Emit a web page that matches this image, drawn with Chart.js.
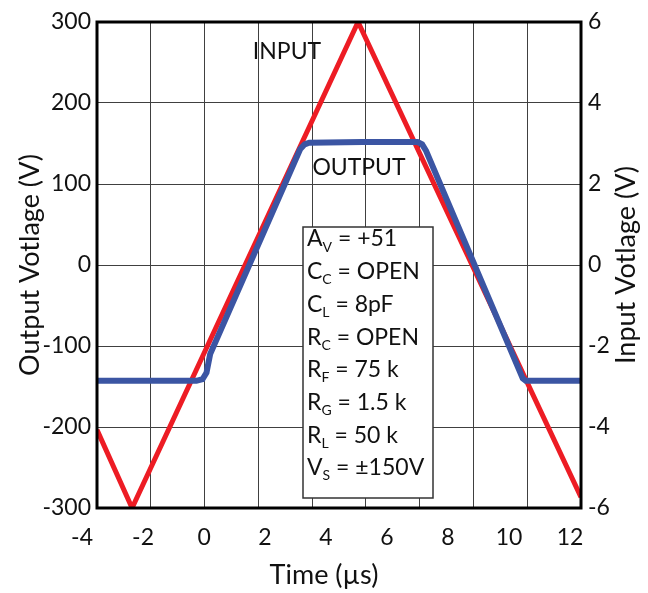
<!DOCTYPE html>
<html>
<head>
<meta charset="utf-8">
<script src="https://cdn.jsdelivr.net/npm/chart.js@4.4.1/dist/chart.umd.min.js"></script>
<style>
  html, body { margin: 0; padding: 0; background: #fff; }
  #wrap { width: 648px; height: 593px; position: relative; }
</style>
</head>
<body>
<div id="wrap"><canvas id="myChart"></canvas></div>
<script>
// input triangle wave (right axis, V)
const inputTime = [-3.51, -2.36, 5.05, 12.36];
const inputVolts = [-4.07, -6, 6, -5.73];

// output (left axis, V)
const outputTime = [-3.51, -0.25, -0.05, 0.08, 0.2, 3.15, 3.3, 3.45, 5.2, 7.0, 7.15, 7.28, 10.45, 10.55, 12.36];
const outputVolts = [-143, -143, -141, -133, -110, 143, 149, 151, 152, 152, 149, 141, -140, -143, -143];

const timeTicks = [-4, -2, 0, 2, 4, 6, 8, 10, 12];
const params = [
  ["A", "V", " = +51"],
  ["C", "C", " = OPEN"],
  ["C", "L", " = 8pF"],
  ["R", "C", " = OPEN"],
  ["R", "F", " = 75 k"],
  ["R", "G", " = 1.5 k"],
  ["R", "L", " = 50 k"],
  ["V", "S", " = \u00B1150V"],
];

const FONT = "Lato";

const toPoints = (xs, ys) => xs.map((x, i) => ({ x: x, y: ys[i] }));

const extras = {
  id: "extras",
  afterDraw(chart) {
    const ctx = chart.ctx;
    const a = chart.chartArea;
    ctx.save();

    // frame
    ctx.strokeStyle = "#000";
    ctx.lineWidth = 3;
    ctx.strokeRect(a.left, a.top, a.right - a.left, a.bottom - a.top);

    ctx.fillStyle = "#111";
    ctx.textBaseline = "middle";
    ctx.textAlign = "center";
    ctx.font = "23px " + FONT;
    ctx.fillText("INPUT", 287, 52);
    ctx.fillText("OUTPUT", 359, 168);

    // parameter box
    ctx.fillStyle = "#fff";
    ctx.fillRect(303, 227, 130, 271);
    ctx.strokeStyle = "#333";
    ctx.lineWidth = 1.5;
    ctx.strokeRect(303, 227, 130, 271);
    ctx.fillStyle = "#111";
    ctx.textAlign = "left";
    params.forEach((p, i) => {
      let x = 307;
      const y = 239 + i * 32.7;
      ctx.font = "23px " + FONT;
      ctx.fillText(p[0], x, y);
      x += ctx.measureText(p[0]).width;
      ctx.font = "14px " + FONT;
      ctx.fillText(p[1], x, y + 8);
      x += ctx.measureText(p[1]).width;
      ctx.font = "23px " + FONT;
      ctx.fillText(p[2], x, y);
    });

    // axis titles
    ctx.textAlign = "center";
    ctx.font = "27px " + FONT;
    ctx.fillText("Time (\u00B5s)", 324, 575);

    ctx.save();
    ctx.translate(30, 265);
    ctx.rotate(-Math.PI / 2);
    ctx.fillText("Output Votlage (V)", 0, 0);
    ctx.restore();

    ctx.save();
    ctx.translate(626, 265);
    ctx.rotate(-Math.PI / 2);
    ctx.fillText("Input Votlage (V)", 0, 0);
    ctx.restore();

    ctx.restore();
  },
};

const ctx = document.getElementById("myChart").getContext("2d");

const chart = new Chart(ctx, {
  type: "line",
  data: {
    datasets: [
      // output first so it is drawn over the input trace
      {
        label: "OUTPUT",
        data: toPoints(outputTime, outputVolts),
        yAxisID: "y",
        borderColor: "#3B55A3",
        borderWidth: 6,
        pointRadius: 0,
        tension: 0,
      },
      {
        label: "INPUT",
        data: toPoints(inputTime, inputVolts),
        yAxisID: "y2",
        borderColor: "#ED1C24",
        borderWidth: 5,
        pointRadius: 0,
        tension: 0,
      },
    ],
  },
  options: {
    responsive: true,
    maintainAspectRatio: false,
    animation: false,
    layout: { padding: { top: 22, left: 0, right: 0, bottom: 0 } },
    plugins: {
      legend: { display: false },
      tooltip: { enabled: false },
    },
    scales: {
      x: {
        type: "linear",
        position: "bottom",
        min: -3.51,
        max: 12.36,
        grid: { display: false },
        border: { display: false },
        afterBuildTicks: (scale) => {
          scale.ticks = timeTicks.map((v) => ({ value: v }));
        },
        afterFit: (scale) => { scale.height = 85; },
        ticks: {
          autoSkip: false,
          maxRotation: 0,
          padding: 8,
          color: "#111",
          font: { family: FONT, size: 23 },
        },
      },
      xg: {
        type: "linear",
        position: "top",
        min: 0,
        max: 9,
        grid: { color: "#404040", lineWidth: 1, drawTicks: false },
        border: { display: false },
        afterFit: (scale) => { scale.height = 0; },
        ticks: { display: false, stepSize: 1 },
      },
      y: {
        position: "left",
        min: -300,
        max: 300,
        grid: { color: "#404040", lineWidth: 1, drawTicks: false },
        border: { display: false },
        afterFit: (scale) => { scale.width = 97; },
        ticks: {
          stepSize: 100,
          padding: 6,
          color: "#111",
          font: { family: FONT, size: 23 },
        },
      },
      y2: {
        position: "right",
        min: -6,
        max: 6,
        grid: { display: false, drawTicks: false },
        border: { display: false },
        afterFit: (scale) => { scale.width = 67; },
        ticks: {
          stepSize: 2,
          padding: 7,
          color: "#111",
          font: { family: FONT, size: 23 },
        },
      },
    },
  },
  plugins: [extras],
});
</script>
</body>
</html>
